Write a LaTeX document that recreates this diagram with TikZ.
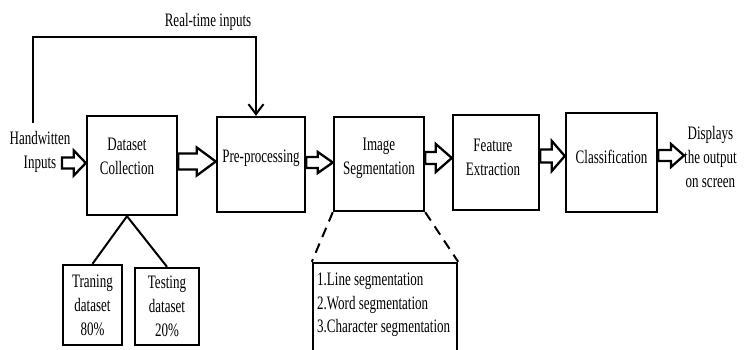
\documentclass[tikz,border=0pt]{standalone}
\usepackage{fontspec}
\setmainfont{Liberation Serif}[FakeStretch=0.685]
\usetikzlibrary{calc,arrows.meta}
\begin{document}
\begin{tikzpicture}[x=1pt,y=-1pt,
  box/.style 2 args={draw,line width=2.4pt,minimum width=#1,minimum height=#2,inner sep=0pt},
  txt/.style={font=\fontsize{19}{24}\selectfont,align=center,inner sep=0pt},
  ltxt/.style={font=\fontsize{19}{23.5}\selectfont,align=left,inner sep=0pt},
  blockarrow/.style n args={3}{line width=2.3pt,to path={let \p1=(\tikztostart),\p2=(\tikztotarget) in
     (\x1,\y1+#1) -- (\x2-#3,\y1+#1) -- (\x2-#3,\y1+#2) -- (\x2,\y1) -- (\x2-#3,\y1-#2) -- (\x2-#3,\y1-#1) -- (\x1,\y1-#1) -- cycle}},
  thin line/.style={line width=2pt},
  dashline/.style={line width=2pt,dash pattern=on 10pt off 7pt}]
\useasboundingbox (0,0) rectangle (751,349);

% main boxes
\node[box={90pt}{99pt}] (ds) at (132,165.5) {};
\node[box={88pt}{95pt}] (pp) at (261,164.5) {};
\node[box={90pt}{94pt}] (is) at (379,164) {};
\node[box={86pt}{95pt}] (fe) at (496,162.5) {};
\node[box={91pt}{99pt}] (cl) at (611.5,162.5) {};

% box texts
\node[txt] (dst) at ([xshift=-5pt,yshift=9pt]ds.center) {Dataset\\Collection};
\node[txt] (ppt) at ([yshift=6.5pt]pp.center) {Pre-processing};
\node[txt] (ist) at ([yshift=5.5pt]is.center) {Image\\Segmentation};
\node[txt] (fet) at ([xshift=-3pt,yshift=5.5pt]fe.center) {Feature\\Extraction};
\node[txt] (clt) at ([yshift=6pt]cl.center) {Classification};

% sub boxes
\node[box={59pt}{80pt}] (tr) at (92.5,305) {};
\node[txt] (trt) at (tr.center) {Traning\\dataset\\80\%};
\node[box={64pt}{77pt}] (te) at (167,306.5) {};
\node[txt] (tet) at (te.center) {Testing\\dataset\\20\%};
\node[box={144pt}{92pt}] (sg) at (385,309) {};
\node[ltxt,anchor=north west] (sgt) at (317,273) {1.Line segmentation\\2.Word segmentation\\3.Character segmentation};

% outer texts
\node[txt] (hw) at (40,152) {Handwitten\\Inputs};
\node[txt] (rt) at (208,22) {Real-time inputs};
\node[txt,anchor=west] (out) at (684,157) {Displays\\the output\\on screen};

% coordinates
\coordinate (a1) at (62,163);
\coordinate (rtl) at (33,123);
\coordinate (rtr) at (256,37);

% block arrows
\draw[blockarrow={5.5pt}{12.5pt}{12pt}] (a1) to (ds.west);
\draw[blockarrow={8pt}{14pt}{19pt}] ([yshift=4pt]ds.east) to (pp.west);
\draw[blockarrow={5.5pt}{10.5pt}{15pt}] ([yshift=2pt]pp.east) to (is.west);
\draw[blockarrow={6pt}{14pt}{16pt}] ([yshift=6pt]is.east) to (fe.west);
\draw[blockarrow={6.5pt}{15pt}{13pt}] ([yshift=6.5pt]fe.east) to (cl.west);
\draw[blockarrow={5.5pt}{11.5pt}{13pt}] ([yshift=7pt]cl.east) to (out.west);

% real-time feedback
\draw[thin line,-{Straight Barb[length=10pt,width=15pt]}] (rtl) |- (rtr) -- ([xshift=-5pt]pp.north);

% split lines
\draw[thin line] ([xshift=-5pt]ds.south) -- (tr.north);
\draw[thin line] ([xshift=-5pt]ds.south) -- (te.north);
\draw[dashline] (is.south west) -- (sg.north west);
\draw[dashline] (is.south east) -- (sg.north east);
\end{tikzpicture}
\end{document}
